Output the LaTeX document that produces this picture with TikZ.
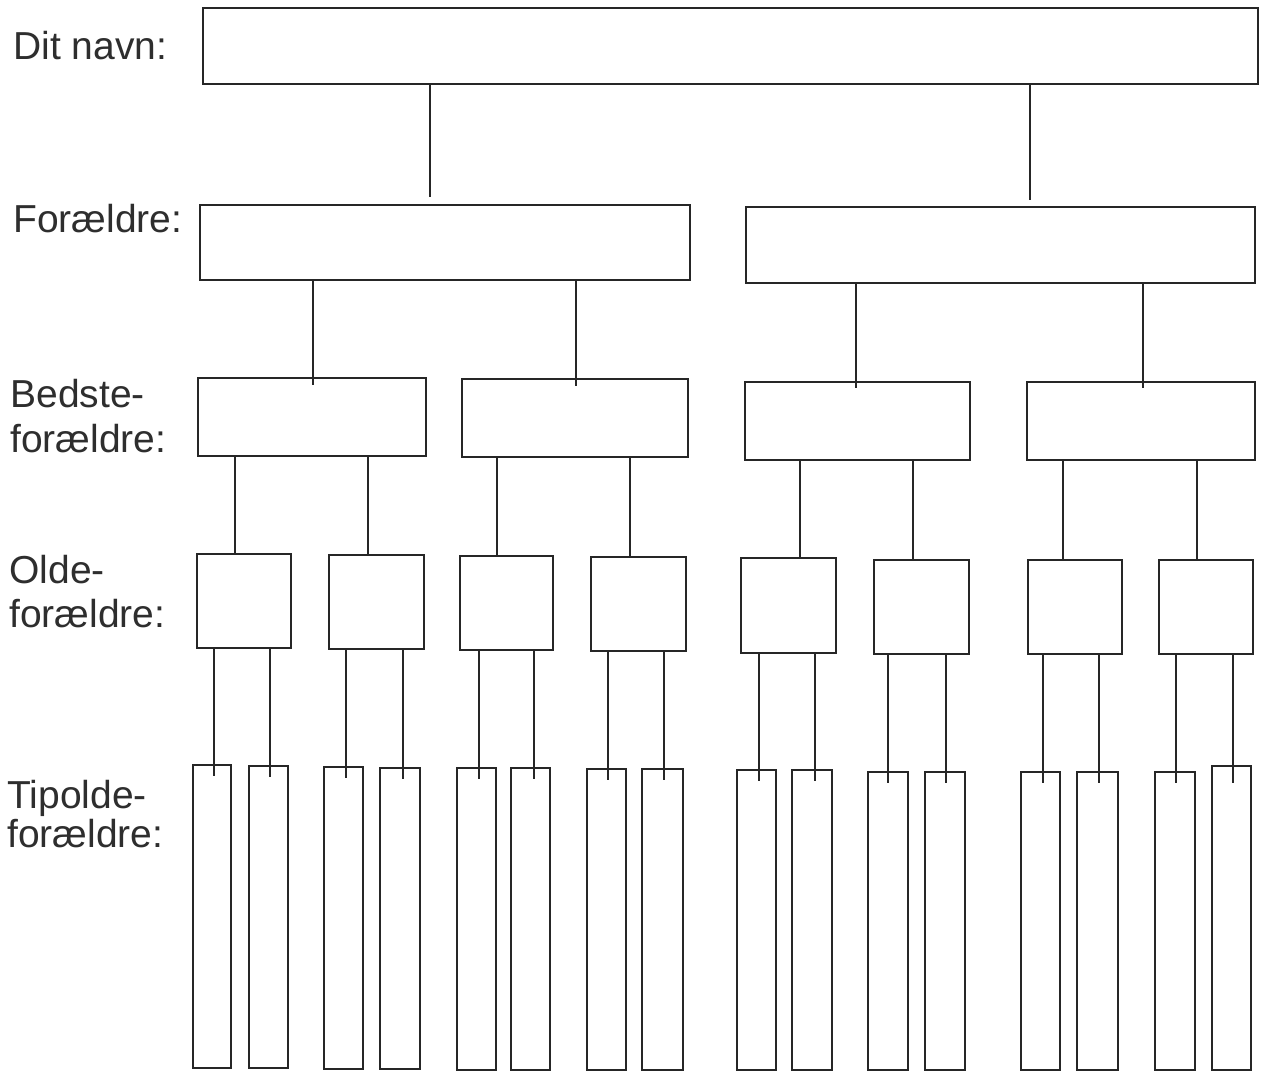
\documentclass[tikz,border=0pt]{standalone}
\usepackage{fontspec}
\setmainfont{Liberation Sans}
\usetikzlibrary{fit,calc}
\tikzset{
  famebox/.style={draw=black!85, line width=1pt, inner sep=0pt, outer sep=0pt},
  lbl/.style={anchor=base west, inner sep=0pt, font=\fontsize{19.5}{22}\selectfont, text=black!82},
  link/.style={draw=black!85, line width=0.9pt}
}
\newcommand\fbx[5]{\node[famebox, fit={(#2,#3) (#4,#5)}] (#1) {};}
\newcommand\famlink[4]{\draw[link] (#1.south -| #3,0) -- ($(#2.north -| #3,0)+(0,#4)$);}
\begin{document}
\begin{tikzpicture}[x=0.5pt,y=-0.5pt]
\fill[white] (0,0) rectangle (1263,1074);
\useasboundingbox (0,0) rectangle (1263,1074);
% labels
\node[lbl] (l1) at (13,60) {Dit navn:};
\node[lbl] (l2) at (13,233) {Forældre:};
\node[lbl] (l3a) at (10,408) {Bedste-};
\node[lbl] (l3b) at (10,453) {forældre:};
\node[lbl] (l4a) at (9,583) {Olde-};
\node[lbl] (l4b) at (9,627) {forældre:};
\node[lbl] (l5a) at (7,808) {Tipolde-};
\node[lbl] (l5b) at (7,847) {forældre:};
% boxes
\fbx{top}{203}{8}{1258}{84}
\fbx{pL}{200}{205}{690}{280}
\fbx{pR}{746}{207}{1255}{283}
\fbx{g1}{198}{378}{426}{456}
\fbx{g2}{462}{379}{688}{457}
\fbx{g3}{745}{382}{970}{460}
\fbx{g4}{1027}{382}{1255}{460}
\fbx{o1}{197}{554}{291}{648}
\fbx{o2}{329}{555}{424}{649}
\fbx{o3}{460}{556}{553}{650}
\fbx{o4}{591}{557}{686}{651}
\fbx{o5}{741}{558}{836}{653}
\fbx{o6}{874}{560}{969}{654}
\fbx{o7}{1028}{560}{1122}{654}
\fbx{o8}{1159}{560}{1253}{654}
\fbx{t1}{193}{765}{231}{1068}
\fbx{t2}{249}{766}{288}{1068}
\fbx{t3}{324}{767}{363}{1069}
\fbx{t4}{380}{768}{420}{1069}
\fbx{t5}{457}{768}{496}{1070}
\fbx{t6}{511}{768}{550}{1070}
\fbx{t7}{587}{769}{626}{1070}
\fbx{t8}{642}{769}{683}{1070}
\fbx{t9}{737}{770}{776}{1070}
\fbx{t10}{792}{770}{832}{1070}
\fbx{t11}{868}{772}{908}{1070}
\fbx{t12}{925}{772}{965}{1070}
\fbx{t13}{1021}{772}{1060}{1070}
\fbx{t14}{1077}{772}{1118}{1070}
\fbx{t15}{1155}{772}{1195}{1070}
\fbx{t16}{1212}{766}{1251}{1070}
% connectors
\famlink{top}{pL}{430}{-8}
\famlink{top}{pR}{1030}{-7}
\famlink{pL}{g1}{313}{7}
\famlink{pL}{g2}{576}{7}
\famlink{pR}{g3}{856}{6}
\famlink{pR}{g4}{1143}{6}
\famlink{g1}{o1}{235}{0}
\famlink{g1}{o2}{368}{0}
\famlink{g2}{o3}{497}{0}
\famlink{g2}{o4}{630}{0}
\famlink{g3}{o5}{800}{0}
\famlink{g3}{o6}{913}{0}
\famlink{g4}{o7}{1063}{0}
\famlink{g4}{o8}{1197}{0}
\famlink{o1}{t1}{214}{11}
\famlink{o1}{t2}{270}{11}
\famlink{o2}{t3}{346}{11}
\famlink{o2}{t4}{403}{11}
\famlink{o3}{t5}{479}{11}
\famlink{o3}{t6}{534}{11}
\famlink{o4}{t7}{608}{11}
\famlink{o4}{t8}{664}{11}
\famlink{o5}{t9}{759}{11}
\famlink{o5}{t10}{815}{11}
\famlink{o6}{t11}{888}{11}
\famlink{o6}{t12}{946}{11}
\famlink{o7}{t13}{1043}{11}
\famlink{o7}{t14}{1099}{11}
\famlink{o8}{t15}{1176}{11}
\famlink{o8}{t16}{1233}{17}
\end{tikzpicture}
\end{document}
